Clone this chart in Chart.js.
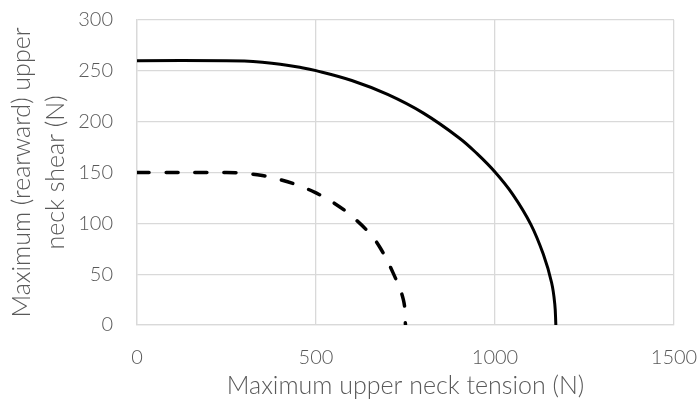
<!DOCTYPE html>
<html>
<head>
<meta charset="utf-8">
<script src="https://cdn.jsdelivr.net/npm/chart.js@4"></script>
<style>
  html, body { margin: 0; padding: 0; background: #fff; }
  #wrap { width: 698px; height: 409px; }
</style>
</head>
<body>
<div id="wrap"><canvas id="monGraphique" width="698" height="409"></canvas></div>
<script>
// valeurs
const solideX = [0, 250, 300, 350, 400, 450, 500, 600, 700, 800, 900, 950, 1000, 1050, 1100, 1135, 1158, 1167, 1170];
const solideY = [260, 260, 259.6, 258.4, 256.5, 253.7, 250.2, 240.5, 226.8, 208.4, 184, 168.5, 150.5, 128.3, 99, 69.5, 41.8, 20.5, 0];
const tiretX = [0, 250, 300, 350, 400, 450, 500, 550, 600, 650, 680, 715, 744, 750];
const tiretY = [150, 150, 149.2, 147, 143, 137.4, 129.9, 120, 107, 90, 75.5, 51.5, 25, 0];

const xTicks = [0, 500, 1000, 1500];
const yTicks = [0, 50, 100, 150, 200, 250, 300];
const xTitre = 'Maximum upper neck tension (N)';
const yTitre = ['Maximum (rearward) upper', 'neck shear (N)'];

const gris = '#595959';
const grille = '#d9d9d9';
const police = 'Lato, "Open Sans", sans-serif';

const toPoints = (xs, ys) => xs.map((x, i) => ({ x: x, y: ys[i] }));

const ctx = document.getElementById('monGraphique').getContext('2d');

new Chart(ctx, {
    type: 'scatter',
    data: {
        datasets: [{
            data: toPoints(solideX, solideY),
            showLine: true,
            borderColor: '#000',
            borderWidth: 3,
            pointRadius: 0,
            tension: 0.4
        }, {
            data: toPoints(tiretX, tiretY),
            showLine: true,
            borderColor: '#000',
            borderWidth: 3.5,
            borderDash: [12, 17],
            borderCapStyle: 'round',
            pointRadius: 0,
            tension: 0.4
        }]
    },
    options: {
        responsive: false,
        animation: false,
        layout: { padding: { top: 20, right: 24, left: 0, bottom: 0 } },
        plugins: { legend: { display: false }, tooltip: { enabled: false } },
        scales: {
            x: {
                type: 'linear',
                min: 0,
                max: 1500,
                afterBuildTicks: s => { s.ticks = xTicks.map(v => ({ value: v })); },
                afterFit: s => { s.height = 84; s.paddingLeft = 0; s.paddingRight = 0; },
                grid: { color: grille, lineWidth: 1.3, drawTicks: false },
                border: { color: grille, width: 1.3 },
                ticks: {
                    color: gris,
                    padding: 21,
                    callback: v => String(v),
                    font: { family: police, size: 20, weight: 300 }
                },
                title: {
                    display: true,
                    text: xTitre,
                    color: gris,
                    padding: { top: 0, bottom: 8 },
                    font: { family: police, size: 25, weight: 300 }
                }
            },
            y: {
                type: 'linear',
                min: 0,
                max: 300,
                afterBuildTicks: s => { s.ticks = yTicks.map(v => ({ value: v })); },
                afterFit: s => { s.width = 137; s.paddingTop = 0; s.paddingBottom = 0; },
                grid: { color: grille, lineWidth: 1.3, drawTicks: false },
                border: { color: grille, width: 1.3 },
                ticks: {
                    color: gris,
                    padding: 24,
                    callback: v => String(v),
                    font: { family: police, size: 20, weight: 300 }
                },
                title: {
                    display: true,
                    text: yTitre,
                    color: gris,
                    padding: { top: 5, bottom: 0 },
                    font: { family: police, size: 25, weight: 300, lineHeight: 1.35 }
                }
            }
        }
    }
});
</script>
</body>
</html>
